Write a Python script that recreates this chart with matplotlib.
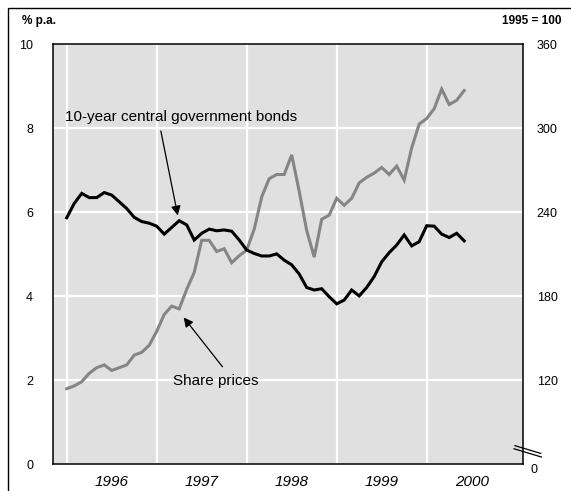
import matplotlib
matplotlib.use("Agg")
import matplotlib.pyplot as plt
from matplotlib.patches import Rectangle
from matplotlib.transforms import offset_copy
import numpy as np

plt.rcParams['font.family'] = ['Liberation Sans', 'DejaVu Sans']

# Monthly data, Jan 1996 .. Jun 2000
start_year = 1996
bond_yield = [5.87, 6.21, 6.45, 6.35, 6.35, 6.47, 6.41, 6.25, 6.09, 5.88, 5.78, 5.74,
              5.67, 5.48, 5.64, 5.80, 5.70, 5.34, 5.50, 5.60, 5.56, 5.58, 5.55, 5.34,
              5.10, 5.02, 4.96, 4.96, 5.01, 4.86, 4.75, 4.53, 4.21, 4.15, 4.18, 3.99,
              3.82, 3.91, 4.15, 4.01, 4.21, 4.47, 4.82, 5.04, 5.22, 5.46, 5.20, 5.30,
              5.68, 5.67, 5.48, 5.40, 5.50, 5.32]
share_prices = [114, 116, 119, 125, 129, 131, 127, 129, 131, 138, 140, 145,
                155, 167, 173, 171, 185, 197, 220, 220, 212, 214, 204, 209,
                213, 228, 251, 264, 267, 267, 281, 255, 227, 208, 235, 238,
                250, 245, 250, 261, 265, 268, 272, 267, 273, 263, 286, 303,
                307, 314, 328, 317, 320, 327]
years = [1996, 1997, 1998, 1999, 2000]
left_ticks = [0, 2, 4, 6, 8, 10]
left_labels = ['0', '2', '4', '6', '8', '10']
right_ticks = [2, 4, 6, 8, 10]
right_labels = ['120', '180', '240', '300', '360']

x = start_year + np.arange(len(bond_yield)) / 12.0
# right scale: 120..360 maps onto left 2..10
share_on_left = (np.array(share_prices) - 60.0) / 30.0

fig = plt.figure(figsize=(5.71, 4.91), dpi=100)
W, H = 571, 491
l, r, t, b = 52.5, 522.7, 44.3, 464.3
ax = fig.add_axes([l / W, 1 - b / H, (r - l) / W, (b - t) / H])
ax.set_facecolor('#e0e0e0')
ax.set_xlim(1995.842, 2001.067)
ax.set_ylim(0, 10)

for yv in left_ticks[1:-1]:
    ax.axhline(yv, color='white', lw=1.6, zorder=1)
for yr in years:
    ax.axvline(yr, color='white', lw=1.6, zorder=1)

ax.plot(x, share_on_left, color='#858585', lw=2.2, zorder=3, solid_joinstyle='miter')
ax.plot(x, bond_yield, color='black', lw=2.2, zorder=4, solid_joinstyle='miter')

ax.set_yticks(left_ticks)
ax.set_yticklabels(left_labels, fontsize=9)
ax.tick_params(axis='y', length=0, pad=14)
ax.set_xticks([yr + 0.5 for yr in years])
ax.set_xticklabels([str(yr) for yr in years], fontsize=11, style='italic')
ax.tick_params(axis='x', length=0, pad=8)
for s in ax.spines.values():
    s.set_color('black')
    s.set_linewidth(1.1)

ax2 = ax.twinx()
ax2.set_ylim(0, 10)
ax2.set_yticks(right_ticks)
ax2.set_yticklabels(right_labels, fontsize=9)
ax2.tick_params(axis='y', length=0, pad=10)
for s in ax2.spines.values():
    s.set_visible(False)
# the broken-axis zero on the right
ax2.text(1.0, 0, '0', transform=offset_copy(ax2.get_yaxis_transform(), fig=fig, x=8, y=-6, units='dots'),
         fontsize=9, ha='left', va='center')

# axis break marker on right axis
ax.plot([0.9836, 1.0383], [0.0443, 0.026], transform=ax.transAxes, color='black', lw=0.9, clip_on=False, zorder=6)
ax.plot([0.9815, 1.0396], [0.037, 0.0174], transform=ax.transAxes, color='black', lw=0.9, clip_on=False, zorder=6)

# annotations
ax.annotate('', xy=(1997.24, 5.86), xytext=(1997.04, 8.0),
            arrowprops=dict(arrowstyle='-|>', color='black', lw=0.9, mutation_scale=14), zorder=7)
ax.text(1995.98, 8.27, '10-year central government bonds', fontsize=11, ha='left', va='center', zorder=7)
ax.annotate('', xy=(1997.28, 3.55), xytext=(1997.75, 2.27),
            arrowprops=dict(arrowstyle='-|>', color='black', lw=0.9, mutation_scale=14), zorder=7)
ax.text(1997.18, 1.99, 'Share prices', fontsize=11, ha='left', va='center', zorder=7)

# headers
fig.text(22 / W, 1 - 21 / H, '% p.a.', fontsize=8.5, fontweight='bold', ha='left', va='center')
fig.text(561 / W, 1 - 21 / H, '1995 = 100', fontsize=8.5, fontweight='bold', ha='right', va='center')

# outer frame (partially visible)
fig.add_artist(Rectangle((8 / W, -0.2), 1.2, 1.2 - 8 / H, transform=fig.transFigure,
                         fill=False, edgecolor='black', lw=1.0))

fig.savefig('out.png', dpi=100)
